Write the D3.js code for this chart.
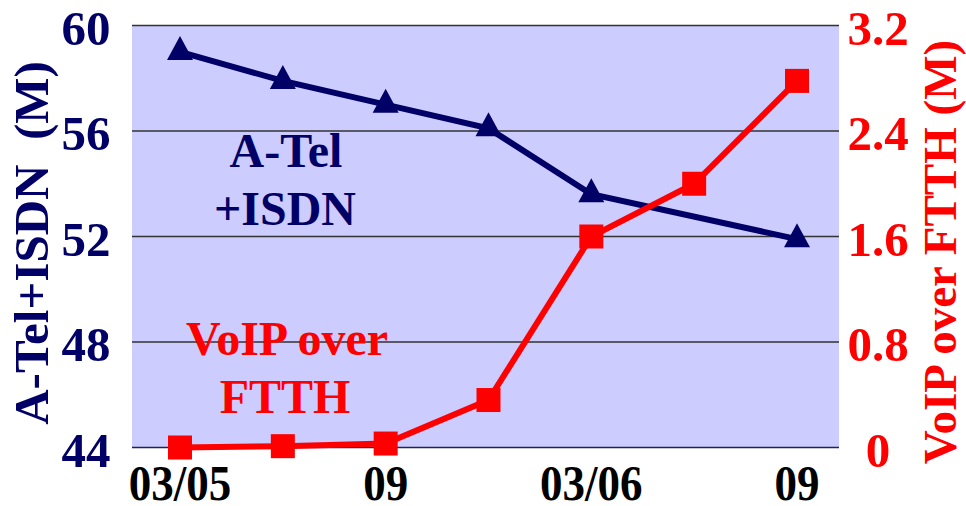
<!DOCTYPE html>
<html>
<head>
<meta charset="utf-8">
<script src="https://cdn.jsdelivr.net/npm/d3@7"></script>
<style>
  body { margin: 0; background: #fff; }
  svg { display: block; font-family: 'Liberation Serif', 'Times New Roman', serif; font-weight: bold; }
</style>
</head>
<body>
<script>
// data
const periods = ['03/05', '06/05', '09/05', '12/05', '03/06', '06/06', '09/06'];
const xTickLabels = ['03/05', '', '09', '', '03/06', '', '09'];
const aTelIsdn = [59.0, 57.9, 57.0, 56.1, 53.6, null, 51.9]; // M, left axis
const voipFtth = [0.0, 0.01, 0.03, 0.36, 1.6, 2.0, 2.78];   // M, right axis
const leftTicks = [44, 48, 52, 56, 60];
const rightTicks = [0, 0.8, 1.6, 2.4, 3.2];

const W = 966, H = 506;
const plot = { left: 132, right: 839, top: 25.5, bottom: 447.5 };
const navy = '#000066', red = '#ff0000';

const svg = d3.select('body').append('svg').attr('width', W).attr('height', H);

//SCALES
const x = d3.scalePoint().domain(d3.range(periods.length)).range([180, 797]);
const yL = d3.scaleLinear().domain([44, 60]).range([plot.bottom, plot.top]);
const yR = d3.scaleLinear().domain([0, 3.2]).range([plot.bottom, plot.top]);

//PLOT BACKGROUND + GRID
svg.append('rect')
  .attr('x', plot.left).attr('y', plot.top)
  .attr('width', plot.right - plot.left).attr('height', plot.bottom - plot.top)
  .attr('fill', '#ccccff');

svg.append('g').selectAll('line').data(leftTicks).join('line')
  .attr('x1', plot.left).attr('x2', plot.right)
  .attr('y1', (d) => yL(d)).attr('y2', (d) => yL(d))
  .attr('stroke', (d) => (d === 44 ? '#222255' : '#333'))
  .attr('stroke-width', 1.4);

//TICK LABELS
svg.append('g').selectAll('text').data(leftTicks).join('text')
  .attr('x', 86).attr('y', (d) => yL(d) + 19)
  .attr('text-anchor', 'middle')
  .attr('font-size', 49).attr('fill', navy)
  .text((d) => d);

svg.append('g').selectAll('text').data(rightTicks).join('text')
  .attr('x', 878).attr('y', (d) => yR(d) + 19)
  .attr('text-anchor', 'middle')
  .attr('font-size', 49).attr('fill', red)
  .text((d) => d);

svg.append('g').selectAll('text').data(xTickLabels).join('text')
  .attr('transform', (d, i) => `translate(${x(i)},500) scale(0.9,1)`)
  .attr('text-anchor', 'middle')
  .attr('font-size', 50).attr('fill', '#000')
  .text((d) => d);

//AXIS TITLES
svg.append('text')
  .attr('transform', 'translate(48,243) rotate(-90)')
  .attr('text-anchor', 'middle')
  .attr('font-size', 49).attr('fill', navy)
  .style('white-space', 'pre')
  .text('A-Tel+ISDN  (M)');

svg.append('text')
  .attr('transform', 'translate(956,252) rotate(-90)')
  .attr('text-anchor', 'middle')
  .attr('font-size', 47).attr('fill', red)
  .text('VoIP over FTTH (M)');

//SERIES LABELS INSIDE PLOT
const inLabels = [
  { t: 'A-Tel', x: 286, y: 167, c: navy },
  { t: '+ISDN', x: 285, y: 225, c: navy },
  { t: 'VoIP over', x: 287, y: 355, c: red },
  { t: 'FTTH', x: 285, y: 413, c: red },
];
svg.append('g').selectAll('text').data(inLabels).join('text')
  .attr('x', (d) => d.x).attr('y', (d) => d.y)
  .attr('text-anchor', 'middle')
  .attr('font-size', 48)
  .attr('fill', (d) => d.c)
  .text((d) => d.t);

//A-TEL+ISDN LINE (missing point is bridged)
const aPts = aTelIsdn.map((v, i) => ({ i, v })).filter((d) => d.v !== null);
svg.append('path')
  .datum(aPts)
  .attr('d', d3.line().x((d) => x(d.i)).y((d) => yL(d.v)))
  .attr('fill', 'none').attr('stroke', navy).attr('stroke-width', 6);
svg.append('g').selectAll('path').data(aPts).join('path')
  .attr('transform', (d) => `translate(${x(d.i)},${yL(d.v)})`)
  .attr('d', 'M0,-16L13,8L-13,8Z')
  .attr('fill', navy);

//VOIP OVER FTTH LINE
const vPts = voipFtth.map((v, i) => ({ i, v }));
svg.append('path')
  .datum(vPts)
  .attr('d', d3.line().x((d) => x(d.i)).y((d) => yR(d.v)))
  .attr('fill', 'none').attr('stroke', red).attr('stroke-width', 6);
svg.append('g').selectAll('rect').data(vPts).join('rect')
  .attr('x', (d) => x(d.i) - 12).attr('y', (d) => yR(d.v) - 12)
  .attr('width', 24).attr('height', 24)
  .attr('fill', red);
</script>
</body>
</html>
